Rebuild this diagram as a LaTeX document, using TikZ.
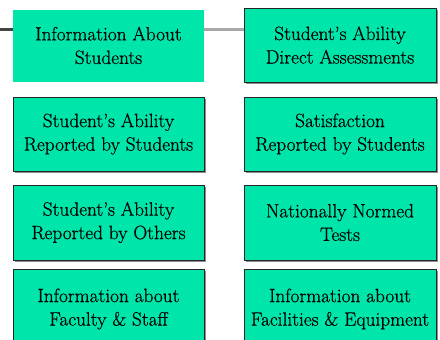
\documentclass[tikz,border=0pt]{standalone}
\usepackage{fontspec}
\setmainfont{Latin Modern Roman}[FakeBold=0.5]
\definecolor{boxfill}{HTML}{00E5A9}
\definecolor{lineDark}{HTML}{444444}
\definecolor{lineLight}{HTML}{A8A8A8}
\begin{document}
\begin{tikzpicture}[x=1bp,y=-1bp,
  infobox/.style={rectangle, fill=boxfill, draw=black!85, line width=0.9bp,
    inner sep=0pt, align=center, font=\rmfamily\fontsize{19.3bp}{23.5bp}\selectfont},
  plainbox/.style={rectangle, fill=boxfill, inner sep=0pt, align=center,
    font=\rmfamily\fontsize{19.3bp}{23.5bp}\selectfont},
  shadowbox/.style={fill=black!45}
]
\useasboundingbox (0,0) rectangle (440,339);
\clip (0,0) rectangle (440,339);
% shadows
\foreach \cx/\cy/\w/\h in {340/45/192/74, 108.5/134/191/74, 340/134/192/74,
  108.5/222.5/191/75, 340/222.5/192/75, 108.5/309/191/80, 340/309/192/80}{
  \fill[shadowbox] (\cx-\w/2+1.5,\cy-\h/2+1.5) rectangle (\cx+\w/2+1.5,\cy+\h/2+1.5);
}
\node[plainbox, minimum width=191bp, minimum height=72bp] (b1) at (108.5,45.5) {Information About\\Students};
\node[infobox, minimum width=192bp, minimum height=74bp] (b2) at (340,45) {Student’s Ability\\Direct Assessments};
\node[infobox, minimum width=191bp, minimum height=74bp] (b3) at (108.5,134) {Student’s Ability\\Reported by Students};
\node[infobox, minimum width=192bp, minimum height=74bp] (b4) at (340,134) {Satisfaction\\Reported by Students};
\node[infobox, minimum width=191bp, minimum height=75bp] (b5) at (108.5,222.5) {Student’s Ability\\Reported by Others};
\node[infobox, minimum width=192bp, minimum height=75bp] (b6) at (340,222.5) {Nationally Normed\\Tests};
\node[infobox, minimum width=191bp, minimum height=80bp] (b7) at (108.5,309) {Information about\\Faculty \& Staff};
\node[infobox, minimum width=192bp, minimum height=80bp] (b8) at (340,309) {Information about\\Facilities \& Equipment};
\coordinate (start) at (0,29.5);
\draw[lineDark, line width=3.5bp] (start) -- (start -| b1.west);
\draw[lineLight, line width=3.5bp] (start -| b1.east) -- (start -| b2.west);
\end{tikzpicture}
\end{document}
